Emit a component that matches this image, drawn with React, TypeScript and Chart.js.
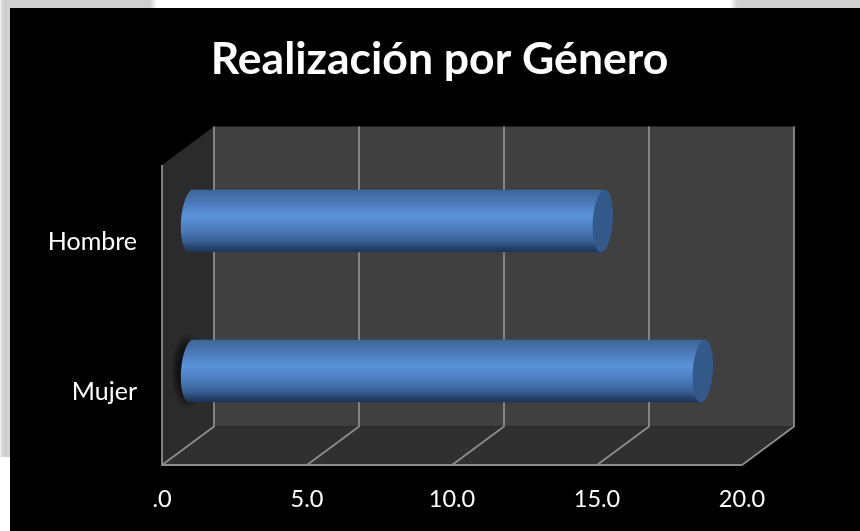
import React, { useEffect, useRef } from "react";
import { Chart, registerables } from "chart.js";

Chart.register(...registerables);

const categories = ["Hombre", "Mujer"];
const values = [14.2, 17.65];
const xTicks = [0, 5, 10, 15, 20];
const chartTitle = "Realización por Género";

const DEPTH_X = 52;
const DEPTH_Y = -38.5;
const BAR_SHIFT_X = 29;
const BAR_SHIFT_Y = -19;
const CAP_RX = 10;

function cylinderGradient(ctx: CanvasRenderingContext2D, top: number, bottom: number) {
  const g = ctx.createLinearGradient(0, top, 0, bottom);
  g.addColorStop(0, "#3f659a");
  g.addColorStop(0.2, "#4b7ab8");
  g.addColorStop(0.42, "#5b93da");
  g.addColorStop(0.62, "#4d7fbf");
  g.addColorStop(0.82, "#3a6196");
  g.addColorStop(0.95, "#223f66");
  g.addColorStop(1, "#1d3657");
  return g;
}

const scene = {
  id: "scene3d",
  beforeDraw(chart: any) {
    const { ctx, width, height } = chart;
    ctx.save();
    ctx.fillStyle = "#ffffff";
    ctx.fillRect(0, 0, width, height);
    ctx.fillStyle = "#d0d0d0";
    ctx.fillRect(0, 0, 152, 8);
    ctx.fillRect(736, 0, 124, 8);
    ctx.fillRect(2, 0, 8, 457);
    let g = ctx.createLinearGradient(150, 0, 157, 0);
    g.addColorStop(0, "#d0d0d0");
    g.addColorStop(1, "#ffffff");
    ctx.fillStyle = g;
    ctx.fillRect(150, 0, 7, 8);
    g = ctx.createLinearGradient(730, 0, 737, 0);
    g.addColorStop(0, "#ffffff");
    g.addColorStop(1, "#d0d0d0");
    ctx.fillStyle = g;
    ctx.fillRect(730, 0, 7, 8);
    g = ctx.createLinearGradient(0, 0, 3, 0);
    g.addColorStop(0, "#f2f2f2");
    g.addColorStop(1, "#d0d0d0");
    ctx.fillStyle = g;
    ctx.fillRect(0, 0, 3, 457);
    ctx.fillStyle = "#000000";
    ctx.fillRect(10, 8, width - 10, height - 8);
    ctx.restore();
  },
  beforeDatasetsDraw(chart: any) {
    const { ctx, chartArea: a, scales } = chart;
    const { left, right, top, bottom } = a;
    const dx = DEPTH_X;
    const dy = DEPTH_Y;
    ctx.save();
    // back wall
    ctx.fillStyle = "#404040";
    ctx.fillRect(left + dx, top + dy, right - left, bottom - top);
    // left wall
    ctx.fillStyle = "#2b2b2b";
    ctx.beginPath();
    ctx.moveTo(left, top);
    ctx.lineTo(left + dx, top + dy);
    ctx.lineTo(left + dx, bottom + dy);
    ctx.lineTo(left, bottom);
    ctx.closePath();
    ctx.fill();
    // floor
    ctx.fillStyle = "#303030";
    ctx.beginPath();
    ctx.moveTo(left, bottom);
    ctx.lineTo(left + dx, bottom + dy);
    ctx.lineTo(right + dx, bottom + dy);
    ctx.lineTo(right, bottom);
    ctx.closePath();
    ctx.fill();
    // grid lines
    ctx.strokeStyle = "#8c8c8c";
    ctx.lineWidth = 1.8;
    for (const v of xTicks) {
      const x = scales.x.getPixelForValue(v);
      ctx.beginPath();
      ctx.moveTo(x, bottom);
      ctx.lineTo(x + dx, bottom + dy);
      ctx.lineTo(x + dx, top + dy);
      ctx.stroke();
    }
    // front axis frame
    ctx.beginPath();
    ctx.moveTo(left, top);
    ctx.lineTo(left, bottom);
    ctx.lineTo(right, bottom);
    ctx.stroke();
    // soft shadow behind the lower bar's start, on the side wall
    const lower = chart.getDatasetMeta(0).data[1];
    if (lower) {
      const cx = scales.x.getPixelForValue(0) + BAR_SHIFT_X - 4;
      const cy = lower.y + BAR_SHIFT_Y;
      const h = lower.height;
      ctx.save();
      ctx.translate(cx, cy);
      ctx.scale(1, (h * 0.62) / 16);
      const sg = ctx.createRadialGradient(0, 0, 4, 0, 0, 16);
      sg.addColorStop(0, "rgba(0,0,0,0.75)");
      sg.addColorStop(0.6, "rgba(0,0,0,0.45)");
      sg.addColorStop(1, "rgba(0,0,0,0)");
      ctx.fillStyle = sg;
      ctx.beginPath();
      ctx.arc(0, 0, 16, 0, Math.PI * 2);
      ctx.fill();
      ctx.restore();
    }
    // the bars themselves sit half way into the depth of the box
    ctx.translate(BAR_SHIFT_X, BAR_SHIFT_Y);
    // rounded far-left ends
    for (const el of chart.getDatasetMeta(0).data) {
      const h = el.height;
      ctx.fillStyle = cylinderGradient(ctx, el.y - h / 2, el.y + h / 2);
      ctx.beginPath();
      ctx.ellipse(el.base, el.y, CAP_RX, h / 2, 0.07, 0, Math.PI * 2);
      ctx.fill();
    }
  },
  afterDatasetsDraw(chart: any) {
    const { ctx } = chart;
    for (const el of chart.getDatasetMeta(0).data) {
      const h = el.height;
      ctx.fillStyle = "#33598a";
      ctx.beginPath();
      ctx.ellipse(el.x, el.y, CAP_RX, h / 2 + 0.5, 0.07, 0, Math.PI * 2);
      ctx.fill();
    }
    ctx.restore();
  },
};

export default function App() {
  const ref = useRef<HTMLCanvasElement>(null);
  useEffect(() => {
    if (!ref.current) return;
    const chart = new Chart(ref.current, {
      type: "bar",
      plugins: [scene],
      data: {
        labels: categories,
        datasets: [
          {
            data: values,
            yAxisID: "y",
            xAxisID: "x",
            clip: false,
            barThickness: 62,
            borderWidth: 0,
            backgroundColor: (c: any) => {
              const yScale = c.chart.scales && c.chart.scales.y;
              const cy = yScale && c.dataIndex != null ? yScale.getPixelForValue(c.dataIndex) : NaN;
              if (!Number.isFinite(cy)) return "#4b7ab8";
              const h = 62;
              return cylinderGradient(c.chart.ctx, cy - h / 2, cy + h / 2);
            },
          } as any,
        ],
      },
      options: {
        indexAxis: "y",
        animation: false,
        responsive: false,
        layout: { padding: { top: 33, right: 0, left: 19, bottom: 0 } },
        plugins: {
          legend: { display: false },
          tooltip: { enabled: false },
          title: {
            display: true,
            text: chartTitle,
            color: "#ffffff",
            font: { family: "Lato", size: 44.5, weight: "bold" },
            padding: { top: 0, bottom: 78.6 },
          },
        },
        scales: {
          x: {
            type: "linear",
            min: 0,
            max: 20,
            afterFit: (s: any) => {
              s.height = 66;
            },
            afterBuildTicks: (s: any) => {
              s.ticks = xTicks.map((value) => ({ value }));
            },
            grid: { display: false },
            border: { display: false },
            ticks: {
              color: "#ffffff",
              padding: 12,
              maxRotation: 0,
              font: { family: "Lato", size: 23.5 },
              callback: (v: any) => (Number(v) === 0 ? ".0" : Number(v).toFixed(1)),
            },
          },
          y: {
            type: "category",
            afterFit: (s: any) => {
              s.width = 143;
            },
            grid: { display: false },
            border: { display: false },
            ticks: {
              color: "#ffffff",
              padding: 17,
              labelOffset: 1.5,
              font: { family: "Lato", size: 25 },
            },
          },
          rightGutter: {
            type: "linear",
            axis: "y",
            position: "right",
            min: 0,
            max: 1,
            afterFit: (s: any) => {
              s.width = 118;
            },
            grid: { display: false },
            border: { display: false },
            ticks: { display: false },
          },
        },
      },
    } as any);
    return () => chart.destroy();
  }, []);
  return (
    <canvas
      ref={ref}
      width={860}
      height={531}
      style={{ position: "fixed", left: 0, top: 0, width: 860, height: 531 }}
    />
  );
}
